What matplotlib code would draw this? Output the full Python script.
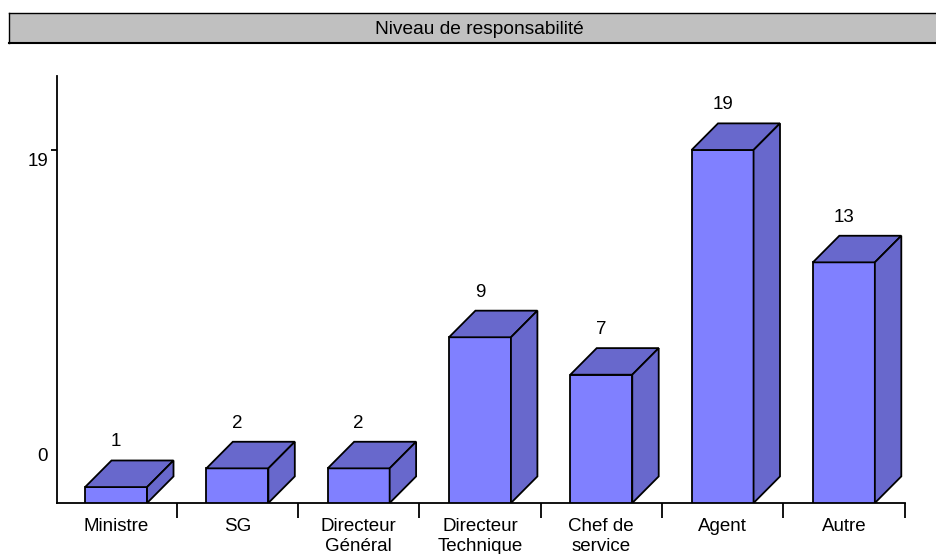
import matplotlib
matplotlib.use("Agg")
import matplotlib.pyplot as plt
from matplotlib.patches import Polygon

categories = ["Ministre", "SG", "Directeur\nGénéral", "Directeur\nTechnique",
              "Chef de\nservice", "Agent", "Autre"]
values = [1, 2, 2, 9, 7, 19, 13]
axis_labels = [0, 19]
title = "Niveau de responsabilité"

W, H = 937, 554
FRONT = "#8080FF"
SIDE = "#6868CC"
LW = 1.3

plt.rcParams["font.family"] = ["Liberation Sans", "DejaVu Sans"]
plt.rcParams["font.size"] = 13.5

fig = plt.figure(figsize=(W / 100, H / 100), dpi=100, facecolor="white")

# grey title band, it runs off the right side of the picture
band = fig.add_axes([9.5 / W, (H - 42.5) / H, 940 / W, 30 / H], facecolor="#C0C0C0")
band.set_xticks([])
band.set_yticks([])
for s in band.spines.values():
    s.set_linewidth(1.0)
band.spines["bottom"].set_linewidth(1.5)
fig.text(479 / W, (H - 29) / H, title, ha="center", va="center", fontsize=13.8)

# main axes, the value 0 sits a little under the base line
ax = fig.add_axes([57 / W, (H - 503) / H, 848 / W, 427 / H])
base = 0.15
ax.set_ylim(base, 22.95)
ax.set_xlim(-0.487, 6.504)
ax.patch.set_alpha(0)
ax.spines["top"].set_visible(False)
ax.spines["right"].set_visible(False)
ax.spines["left"].set_linewidth(LW)
ax.spines["bottom"].set_linewidth(LW)

# bar size and the offset of the fake 3d depth, in data units
half = 0.2555
dx = 0.218
dy = 1.42

for i, v in enumerate(values):
    l, r = i - half, i + half
    ax.add_patch(Polygon([(l, base), (r, base), (r, v), (l, v)],
                         fc=FRONT, ec="black", lw=LW, joinstyle="miter", zorder=3))
    ax.add_patch(Polygon([(l, v), (r, v), (r + dx, v + dy), (l + dx, v + dy)],
                         fc=SIDE, ec="black", lw=LW, joinstyle="miter", zorder=3))
    ax.add_patch(Polygon([(r, base), (r + dx, base + dy), (r + dx, v + dy), (r, v)],
                         fc=SIDE, ec="black", lw=LW, joinstyle="miter", zorder=3))
    ax.annotate(str(v), xy=(i, v + dy), xytext=(0, 18.5), textcoords="offset pixels",
                ha="center", va="center")

# x axis: ticks between the categories, labels on the minor ticks
ax.set_xticks([i + 0.5 for i in range(len(categories))])
ax.set_xticklabels([])
ax.set_xticks(range(len(categories)), categories, minor=True, linespacing=1.3)
ax.tick_params(axis="x", which="major", direction="out", length=10.8, width=LW)
ax.tick_params(axis="x", which="minor", length=0, pad=10.5)

# y axis: only one tick, both labels sit off their values like in the original
ax.set_yticks([19])
ax.set_yticklabels([])
ax.tick_params(axis="y", direction="out", length=4.3, width=LW)
for v, off in zip(axis_labels, [49, -12]):
    ax.annotate(str(v), xy=(0, v), xycoords=ax.get_yaxis_transform(),
                xytext=(-9, off), textcoords="offset pixels", ha="right", va="center")

fig.savefig("out.png", dpi=100)
